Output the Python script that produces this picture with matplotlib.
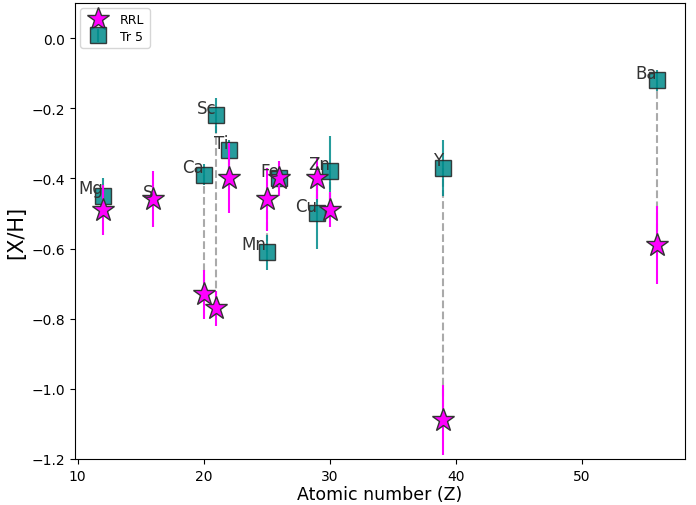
import matplotlib
matplotlib.use('Agg')
import matplotlib.pyplot as plt

elements = ['Mg', 'S', 'Ca', 'Sc', 'Ti', 'Mn', 'Fe', 'Cu', 'Zn', 'Y', 'Ba']
z = [12, 16, 20, 21, 22, 25, 26, 29, 30, 39, 56]

rrl = [-0.49, -0.46, -0.73, -0.77, -0.40, -0.46, -0.40, -0.40, -0.49, -1.09, -0.59]
rrl_err = [0.07, 0.08, 0.07, 0.05, 0.10, 0.09, 0.05, 0.06, 0.05, 0.10, 0.11]

# S has no Tr 5 value
z_tr5 = [12, 20, 21, 22, 25, 26, 29, 30, 39, 56]
el_tr5 = ['Mg', 'Ca', 'Sc', 'Ti', 'Mn', 'Fe', 'Cu', 'Zn', 'Y', 'Ba']
tr5 = [-0.45, -0.39, -0.22, -0.32, -0.61, -0.40, -0.50, -0.38, -0.37, -0.12]
tr5_err = [0.05, 0.03, 0.05, 0.03, 0.05, 0.03, 0.10, 0.10, 0.08, 0.03]

fig, ax = plt.subplots(figsize=(6.96, 5.06), dpi=100)

# dashed connectors between the two samples
for i in range(len(z_tr5)):
    j = z.index(z_tr5[i])
    ax.plot([z_tr5[i], z_tr5[i]], [tr5[i], rrl[j]], '--', color='#aaaaaa',
            lw=1.5, zorder=1)

ax.errorbar(z, rrl, yerr=rrl_err, fmt='*', color='#ff00ff', ms=17,
            mec='#333333', mew=1, elinewidth=1.5, label='RRL', zorder=3)
ax.errorbar(z_tr5, tr5, yerr=tr5_err, fmt='s', color='#008b8b', ms=12,
            mec='#222222', mew=1, alpha=0.85, elinewidth=1.5, label='Tr 5', zorder=2)

for i in range(len(z_tr5)):
    ax.annotate(el_tr5[i], (z_tr5[i], tr5[i]), xytext=(0, -1),
                textcoords='offset points', ha='right', va='bottom',
                fontsize=12, color='#333333', zorder=4)
# S label next to its RRL star
ax.annotate('S', (16, -0.46), xytext=(0, -1), textcoords='offset points',
            ha='right', va='bottom', fontsize=12, color='#333333', zorder=4)

ax.set_ylim(-1.2, 0.1)
ax.set_xlabel('Atomic number (Z)', fontsize=12.5, labelpad=2)
ax.set_ylabel('[X/H]', fontsize=15)
ax.legend(loc='upper left', fontsize=9, labelspacing=0.3, borderaxespad=0.4)

plt.subplots_adjust(left=0.108, right=0.984, top=0.992, bottom=0.091)
plt.savefig('out.png')
